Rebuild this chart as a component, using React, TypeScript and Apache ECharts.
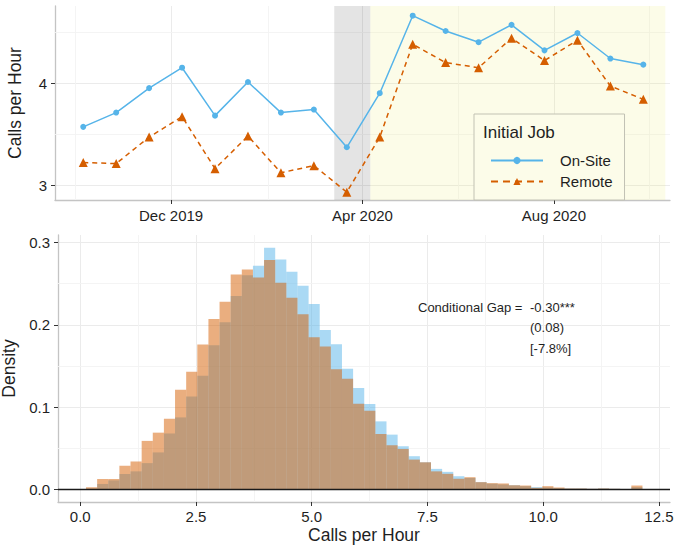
import React, { useEffect, useRef } from 'react';
import * as echarts from 'echarts';

// ---------- Top panel data ----------
const periodDates = [
  '2019-10-06', '2019-10-27', '2019-11-17', '2019-12-08', '2019-12-29', '2020-01-19',
  '2020-02-09', '2020-03-01', '2020-03-22', '2020-04-12', '2020-05-03', '2020-05-24',
  '2020-06-14', '2020-07-05', '2020-07-26', '2020-08-16', '2020-09-06', '2020-09-27',
];
const onSiteCalls = [3.57, 3.71, 3.95, 4.15, 3.68, 4.01, 3.71, 3.74, 3.37, 3.90, 4.66, 4.51, 4.40, 4.57, 4.32, 4.49, 4.24, 4.18];
const remoteCalls = [3.22, 3.21, 3.47, 3.67, 3.16, 3.48, 3.12, 3.19, 2.93, 3.47, 4.38, 4.20, 4.15, 4.44, 4.22, 4.42, 3.97, 3.84];
const topTickDates = ['2019-12-01', '2020-04-01', '2020-08-01'];
const topMinorDates = ['2019-10-01', '2020-02-01', '2020-06-01', '2020-10-01'];
const topRange = ['2019-09-18', '2020-10-14'];
const lockdownBand = ['2020-03-14', '2020-04-06'];
const remotePeriod = ['2020-04-06', '2020-10-11'];
const topYTicks = [3, 4];
const topYMinor = [3.5, 4.5];
const topYRange = [2.853, 4.755];
const legendTitle = 'Initial Job';
const seriesNames = ['On-Site', 'Remote'];

// ---------- Bottom panel data ----------
const binStart = 0.125;
const binWidth = 0.2404;
const onSiteDensity = [
  0.001, 0.0067, 0.011, 0.0187, 0.022, 0.032, 0.045, 0.068, 0.0875, 0.113,
  0.138, 0.175, 0.203, 0.235, 0.26, 0.2716, 0.2934, 0.2793, 0.2643, 0.2473,
  0.2252, 0.1937, 0.1764, 0.1465, 0.1231, 0.1037, 0.0827, 0.0666, 0.0525, 0.0404,
  0.033, 0.025, 0.0214, 0.0161, 0.014, 0.0089, 0.007, 0.006, 0.0052, 0.004,
  0.0028, 0.0024, 0.0016, 0.0012, 0.0012, 0.0008, 0.0012, 0.0008, 0.0004, 0.0028,
];
const remoteDensity = [
  0.0027, 0.0127, 0.0127, 0.0287, 0.034, 0.059, 0.069, 0.086, 0.121, 0.143,
  0.176, 0.207, 0.228, 0.261, 0.267, 0.2575, 0.2785, 0.251, 0.2328, 0.2127,
  0.1848, 0.1735, 0.146, 0.1344, 0.1041, 0.0956, 0.0674, 0.0537, 0.0492, 0.0363,
  0.033, 0.022, 0.019, 0.013, 0.0149, 0.0089, 0.0077, 0.0073, 0.0052, 0.0048,
  0.002, 0.004, 0.0024, 0.0012, 0.0012, 0.0008, 0.0012, 0.0008, 0.0004, 0.0048,
];
const histXTicks = [0, 2.5, 5, 7.5, 10, 12.5];
const histXMinor = [1.25, 3.75, 6.25, 8.75, 11.25];
const histXRange = [-0.48, 12.74];
const histYTicks = [0, 0.1, 0.2, 0.3];
const histYMinor = [0.05, 0.15, 0.25];
const histYRange = [-0.0152, 0.309];
const gapLabel = 'Conditional Gap =';
const gapLines = ['-0.30***', '(0.08)', '[-7.8%]'];

const MONTHS = ['Jan', 'Feb', 'Mar', 'Apr', 'May', 'Jun', 'Jul', 'Aug', 'Sep', 'Oct', 'Nov', 'Dec'];
const FONT = '"Liberation Sans", Arial, Helvetica, sans-serif';
const BLUE = '#56B4E9';
const ORANGE = '#D55E00';
const TXT = '#1f1f1f';

const toTs = (s: string) => {
  const [y, m, d] = s.split('-').map(Number);
  return new Date(y, m - 1, d).getTime();
};

export default function App() {
  const ref = useRef<HTMLDivElement>(null);

  useEffect(() => {
    if (!ref.current) return;
    const chart = echarts.init(ref.current, undefined, { renderer: 'svg' });

    const minorLine = { color: '#F3F3F3', width: 0.9, type: 'solid' as const };
    const axisLineStyle = { color: '#C4C4C4', width: 1.3 };
    const tickStyle = { show: true, length: 4, lineStyle: { color: '#333', width: 1 } };
    const labelBase = { color: TXT, fontFamily: FONT, fontSize: 15 };

    const histItem = (arr: number[]) =>
      arr.map((v, i) => [binStart + i * binWidth, binStart + (i + 1) * binWidth, v]);
    const histRender = (fill: string) => (params: any, api: any) => {
      const p0 = api.coord([api.value(0), api.value(2)]);
      const p1 = api.coord([api.value(1), 0]);
      return {
        type: 'rect',
        shape: { x: p0[0], y: p0[1], width: p1[0] - p0[0], height: p1[1] - p0[1] },
        style: { fill },
      };
    };

    const option: any = {
      animation: false,
      backgroundColor: '#ffffff',
      textStyle: { fontFamily: FONT },
      grid: [
        { left: 55, top: 6, right: 5, height: 194, outerBoundsMode: 'none' },
        { left: 58, top: 235, right: 5, height: 267, outerBoundsMode: 'none' },
      ],
      xAxis: [
        {
          type: 'value',
          gridIndex: 0,
          min: toTs(topRange[0]),
          max: toTs(topRange[1]),
          axisLine: { show: true, onZero: false, lineStyle: axisLineStyle },
          axisTick: { ...tickStyle, customValues: topTickDates.map(toTs) },
          axisLabel: {
            ...labelBase,
            margin: 8,
            customValues: topTickDates.map(toTs),
            formatter: (v: number) => {
              const d = new Date(v);
              return MONTHS[d.getMonth()] + ' ' + d.getFullYear();
            },
          },
          splitLine: { show: true, lineStyle: { color: '#EBEBEB', width: 1 } },
        },
        {
          type: 'value',
          gridIndex: 1,
          min: histXRange[0],
          max: histXRange[1],
          name: 'Calls per Hour',
          nameLocation: 'middle',
          nameGap: 24,
          nameTextStyle: { color: TXT, fontFamily: FONT, fontSize: 17.5 },
          axisLine: { show: true, onZero: false, lineStyle: axisLineStyle },
          axisTick: { ...tickStyle, customValues: histXTicks },
          axisLabel: {
            ...labelBase,
            margin: 7,
            customValues: histXTicks,
            formatter: (v: number) => v.toFixed(1),
          },
          splitLine: { show: true, lineStyle: { color: '#EBEBEB', width: 1 } },
        },
      ],
      yAxis: [
        {
          type: 'value',
          gridIndex: 0,
          min: topYRange[0],
          max: topYRange[1],
          name: 'Calls per Hour',
          nameLocation: 'middle',
          nameGap: 31,
          nameTextStyle: { color: TXT, fontFamily: FONT, fontSize: 17.5 },
          axisLine: { show: true, onZero: false, lineStyle: axisLineStyle },
          axisTick: { ...tickStyle, customValues: topYTicks },
          axisLabel: { ...labelBase, margin: 8, customValues: topYTicks, formatter: (v: number) => String(v) },
          splitLine: { show: true, lineStyle: { color: '#EBEBEB', width: 1 } },
        },
        {
          type: 'value',
          gridIndex: 1,
          min: histYRange[0],
          max: histYRange[1],
          name: 'Density',
          nameLocation: 'middle',
          nameGap: 33,
          nameTextStyle: { color: TXT, fontFamily: FONT, fontSize: 17.5 },
          axisLine: { show: true, onZero: false, lineStyle: axisLineStyle },
          axisTick: { ...tickStyle, customValues: histYTicks },
          axisLabel: { ...labelBase, margin: 8, customValues: histYTicks, formatter: (v: number) => v.toFixed(1) },
          splitLine: { show: true, lineStyle: { color: '#EBEBEB', width: 1 } },
        },
      ],
      legend: {
        data: [
          { name: seriesNames[0] },
          { name: seriesNames[1], lineStyle: { type: [7, 5] } },
        ],
        orient: 'vertical',
        left: 474,
        top: 114,
        z: 10,
        backgroundColor: '#FCFCE9',
        borderColor: '#C2C2B4',
        borderWidth: 1,
        padding: [39, 12, 11, 16],
        itemWidth: 52,
        itemHeight: 9,
        itemGap: 6,
        selectedMode: false,
        textStyle: { color: TXT, fontFamily: FONT, fontSize: 15, lineHeight: 14, padding: [0, 0, 0, 12] },
      },
      graphic: [
        {
          type: 'text',
          left: 483,
          top: 124,
          z: 100,
          style: { text: legendTitle, fill: TXT, font: `17px ${FONT}` },
        },
        {
          type: 'text',
          x: 418,
          y: 307,
          z: 100,
          style: { text: gapLabel, fill: TXT, font: `13px ${FONT}`, verticalAlign: 'middle' },
        },
        ...gapLines.map((t, i) => ({
          type: 'text',
          x: 530,
          y: 307 + i * 20.8,
          z: 100,
          style: { text: t, fill: TXT, font: `13px ${FONT}`, verticalAlign: 'middle' },
        })),
      ],
      series: [
        {
          name: 'top-grid',
          type: 'line',
          xAxisIndex: 0,
          yAxisIndex: 0,
          data: [],
          z: 1,
          silent: true,
          markLine: {
            z: 1,
            silent: true,
            symbol: ['none', 'none'],
            label: { show: false },
            lineStyle: minorLine,
            data: [
              ...topMinorDates.map((d) => ({ xAxis: toTs(d) })),
              ...topYMinor.map((v) => ({ yAxis: v })),
            ],
          },
        },
        {
          name: 'top-bands',
          type: 'line',
          xAxisIndex: 0,
          yAxisIndex: 0,
          data: [],
          z: 2,
          silent: true,
          markArea: {
            z: 2,
            silent: true,
            data: [
              [{ xAxis: toTs(lockdownBand[0]), itemStyle: { color: 'rgba(0,0,0,0.105)' } }, { xAxis: toTs(lockdownBand[1]) }],
              [{ xAxis: toTs(remotePeriod[0]), itemStyle: { color: 'rgba(240,240,120,0.17)' } }, { xAxis: toTs(remotePeriod[1]) }],
            ],
          },
        },
        {
          name: seriesNames[0],
          type: 'line',
          xAxisIndex: 0,
          yAxisIndex: 0,
          z: 3,
          data: periodDates.map((d, i) => [toTs(d), onSiteCalls[i]]),
          symbol: 'circle',
          symbolSize: 6,
          itemStyle: { color: BLUE },
          lineStyle: { color: BLUE, width: 1.5 },
        },
        {
          name: seriesNames[1],
          type: 'line',
          xAxisIndex: 0,
          yAxisIndex: 0,
          z: 3,
          data: periodDates.map((d, i) => [toTs(d), remoteCalls[i]]),
          symbol: 'triangle',
          symbolSize: 9,
          itemStyle: { color: ORANGE },
          lineStyle: { color: ORANGE, width: 1.5, type: [5, 4] },
        },
        {
          name: 'hist-grid',
          type: 'line',
          xAxisIndex: 1,
          yAxisIndex: 1,
          data: [],
          z: 1,
          silent: true,
          markLine: {
            z: 1,
            silent: true,
            symbol: ['none', 'none'],
            label: { show: false },
            lineStyle: minorLine,
            data: [
              ...histXMinor.map((v) => ({ xAxis: v })),
              ...histYMinor.map((v) => ({ yAxis: v })),
            ],
          },
        },
        {
          name: 'hist-onsite',
          type: 'custom',
          xAxisIndex: 1,
          yAxisIndex: 1,
          z: 2,
          silent: true,
          encode: { x: [0, 1], y: 2 },
          data: histItem(onSiteDensity),
          renderItem: histRender('rgba(86,180,233,0.5)'),
        },
        {
          name: 'hist-remote',
          type: 'custom',
          xAxisIndex: 1,
          yAxisIndex: 1,
          z: 3,
          silent: true,
          encode: { x: [0, 1], y: 2 },
          data: histItem(remoteDensity),
          renderItem: histRender('rgba(213,94,0,0.5)'),
        },
        {
          name: 'hist-zero',
          type: 'line',
          xAxisIndex: 1,
          yAxisIndex: 1,
          data: [],
          z: 4,
          silent: true,
          markLine: {
            z: 4,
            silent: true,
            symbol: ['none', 'none'],
            label: { show: false },
            lineStyle: { color: '#1a1a1a', width: 1.3, type: 'solid' },
            data: [{ yAxis: 0 }],
          },
        },
      ],
    };

    chart.setOption(option);
    return () => chart.dispose();
  }, []);

  return <div ref={ref} style={{ width: 675, height: 546, position: 'absolute', left: 0, top: 0 }} />;
}
